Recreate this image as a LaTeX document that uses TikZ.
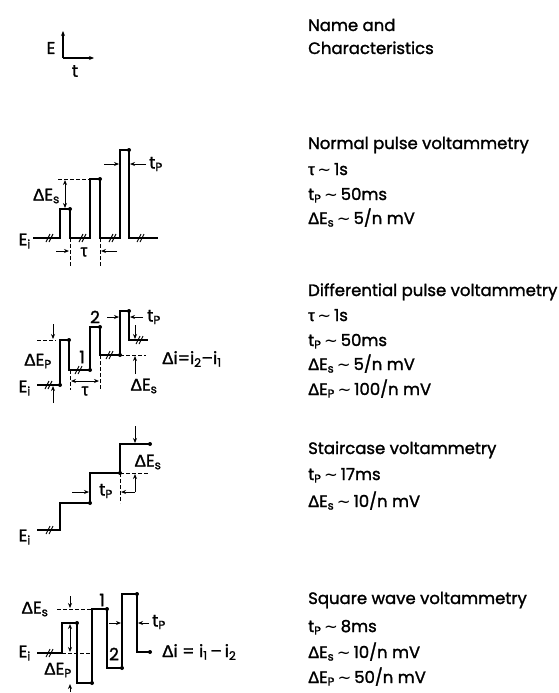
\documentclass[tikz,border=0pt]{standalone}
\usepackage{fontspec}
\setmainfont{Poppins}[FakeBold=1.5]
\newfontfamily\grk{Liberation Sans}[FakeBold=1.5]
\newfontfamily\symf{DejaVu Sans}
\usetikzlibrary{arrows.meta}
\newcommand{\gD}{{\grk Δ}}
\newcommand{\gT}{{\grk τ}}
\newcommand{\sig}{\,{\symf ∼}\,}
\newcommand{\brk}[2]{\draw[brkline] (#1-4,#2+4) -- (#1,#2-4) (#1-1,#2+4) -- (#1+3,#2-4);}
\newcommand{\smp}[2]{\fill (#1,#2) circle (2);}

\begin{document}
\begin{tikzpicture}[x=1pt, y=-1pt, >={Stealth[length=5pt,width=4pt]},
  wave/.style={line width=1.6pt, line join=miter},
  guide/.style={line width=0.9pt, dash pattern=on 3.5pt off 2.5pt},
  tick/.style={line width=0.9pt, ->},
  brkline/.style={line width=0.9pt},
  lbl/.style={font=\fontsize{17}{17}\selectfont, inner sep=0pt},
  info/.style={font=\fontsize{16.5}{16.5}\selectfont, anchor=base west, inner sep=0pt}]
  \useasboundingbox (0,0) rectangle (559,693);

  % axes
  \draw[line width=1.1pt, ->] (63,58) -- (63,31);
  \draw[line width=1.1pt, ->] (63,58) -- (94,58);
  \node[lbl] (axE) at (51,48) {E};
  \node[lbl] (axt) at (75,71) {t};

  % normal pulse
  \draw[wave] (33,238) -- (60,238) -- (60,209) -- (70,209) -- (70,238) -- (90,238)
    -- (90,179) -- (100,179) -- (100,238) -- (120,238) -- (120,150) -- (129,150)
    -- (129,238) -- (158,238);
  \brk{50}{238} \brk{83}{238} \brk{113}{238} \brk{141}{238}
  \smp{70}{209} \smp{100}{179} \smp{129}{150}
  \draw[guide] (58,179) -- (90,179);
  \draw[guide] (70,238) -- (70,266) (100,238) -- (100,266);
  \draw[tick, <->] (65,180) -- (65,208);
  \draw[tick] (56,251) -- (69,251);
  \draw[tick] (117,251) -- (101,251);
  \draw[tick] (104,164) -- (119,164);
  \draw[tick] (146,164) -- (130,164);
  \node[lbl, anchor=east] (npEs) at (60,196) {\gD E\textsubscript{s}};
  \node[lbl, anchor=east] (npEi) at (31,241) {E\textsubscript{i}};
  \node[lbl] (npTau) at (84,252) {\gT};
  \node[lbl, anchor=west] (npTp) at (149,164) {t\textsubscript{P}};

  % differential pulse
  \draw[wave] (37,385) -- (60,385) -- (60,340) -- (69,340) -- (69,370) -- (90,370)
    -- (90,327) -- (100,327) -- (100,355) -- (120,355) -- (120,311) -- (129,311)
    -- (129,340) -- (148,340);
  \brk{49}{385} \brk{79}{370} \brk{110}{355} \brk{140}{340}
  \smp{60}{385} \smp{69}{340} \smp{90}{370} \smp{100}{327} \smp{120}{355} \smp{129}{311}
  \draw[guide] (37,340) -- (56,340);
  \draw[guide] (120,355) -- (146,355);
  \draw[guide] (70,370) -- (70,390) (100,355) -- (100,390);
  \draw[tick] (53,324) -- (53,339);
  \draw[tick] (53,403) -- (53,386);
  \draw[tick, <->] (71,381) -- (99,381);
  \draw[tick] (135,374) -- (135,356);
  \draw[tick] (135,325) -- (135,339);
  \draw[tick] (107,317) -- (119,317);
  \draw[tick] (143,317) -- (130,317);
  \node[lbl] (dp1) at (82,357) {1};
  \node[lbl] (dp2) at (95,317) {2};
  \node[lbl] (dpEp) at (38,361) {\gD E\textsubscript{P}};
  \node[lbl, anchor=east] (dpEi) at (31,388) {E\textsubscript{i}};
  \node[lbl] (dpTau) at (85,391) {\gT};
  \node[lbl] (dpEs) at (144,386) {\gD E\textsubscript{s}};
  \node[lbl, anchor=west] (dpTp) at (147,317) {t\textsubscript{P}};
  \node[lbl, anchor=west] (dpDi) at (162,359) {\gD i=i\textsubscript{2}--i\textsubscript{1}};

  % staircase
  \draw[wave] (37,530) -- (60,530) -- (60,503) -- (90,503) -- (90,473) -- (120,473)
    -- (120,444) -- (150,444);
  \brk{50}{530}
  \smp{90}{503} \smp{120}{473} \smp{150}{444}
  \draw[guide] (120,473) -- (148,473) (120,473) -- (120,503);
  \draw[tick] (135,426) -- (135,443);
  \draw[tick] (135,492) -- (135,474);
  \draw[tick] (135,492) -- (121,492);
  \draw[tick] (72,492) -- (89,492);
  \node[lbl] (scTp) at (106,491) {t\textsubscript{P}};
  \node[lbl] (scEs) at (148,462) {\gD E\textsubscript{s}};
  \node[lbl, anchor=east] (scEi) at (31,537) {E\textsubscript{i}};

  % square wave
  \draw[wave] (37,653) -- (62,653) -- (62,623) -- (77,623) -- (77,683) -- (92,683)
    -- (92,609) -- (107,609) -- (107,668) -- (122,668) -- (122,594) -- (137,594)
    -- (137,652) -- (150,652);
  \brk{50}{653}
  \smp{77}{623} \smp{92}{683} \smp{107}{609} \smp{122}{668} \smp{137}{594} \smp{150}{652}
  \draw[guide] (57,609) -- (92,609);
  \draw[guide] (62,653) -- (92,653);
  \draw[tick] (70,596) -- (70,608);
  \draw[tick, <->] (70,624) -- (70,652);
  \draw[tick] (70,692) -- (70,684);
  \draw[tick] (109,623) -- (121,623);
  \draw[tick] (149,623) -- (138,623);
  \node[lbl] (sw1) at (102,600) {1};
  \node[lbl] (sw2) at (114,654) {2};
  \node[lbl] (swEs) at (35,609) {\gD E\textsubscript{s}};
  \node[lbl] (swEp) at (58,670) {\gD E\textsubscript{P}};
  \node[lbl, anchor=east] (swEi) at (31,653) {E\textsubscript{i}};
  \node[lbl, anchor=west] (swTp) at (152,622) {t\textsubscript{P}};
  \node[lbl, anchor=west] (swDi) at (162,652) {\gD i = i\textsubscript{1}\,--\,i\textsubscript{2}};

  % names and characteristics
  \node[info] (hd1) at (308,31) {Name and};
  \node[info] (hd2) at (308,54) {Characteristics};

  \node[info] (np0) at (308,149) {Normal pulse voltammetry};
  \node[info] (np1) at (308,175) {\gT\sig 1s};
  \node[info] (np2) at (308,200) {t\textsubscript{P}\sig 50ms};
  \node[info] (np3) at (308,224) {\gD E\textsubscript{s}\sig 5/n mV};

  \node[info] (dp0) at (308,296) {Differential pulse voltammetry};
  \node[info] (dp1t) at (308,321) {\gT\sig 1s};
  \node[info] (dp2t) at (308,346) {t\textsubscript{P}\sig 50ms};
  \node[info] (dp3t) at (308,370) {\gD E\textsubscript{s}\sig 5/n mV};
  \node[info] (dp4t) at (308,395) {\gD E\textsubscript{P}\sig 100/n mV};

  \node[info] (sc0) at (308,454) {Staircase voltammetry};
  \node[info] (sc1) at (308,480) {t\textsubscript{P}\sig 17ms};
  \node[info] (sc2) at (308,507) {\gD E\textsubscript{s}\sig 10/n mV};

  \node[info] (sw0) at (308,604) {Square wave voltammetry};
  \node[info] (sw1t) at (308,632) {t\textsubscript{P}\sig 8ms};
  \node[info] (sw2t) at (308,658) {\gD E\textsubscript{s}\sig 10/n mV};
  \node[info] (sw3t) at (308,683) {\gD E\textsubscript{P}\sig 50/n mV};
\end{tikzpicture}
\end{document}
